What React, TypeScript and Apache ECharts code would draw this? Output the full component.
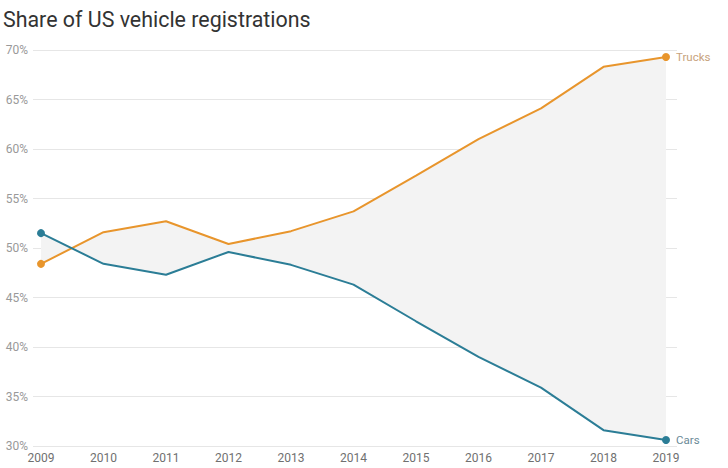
import React, { useEffect, useRef } from "react";
import * as echarts from "echarts";

const years = [2009, 2010, 2011, 2012, 2013, 2014, 2015, 2016, 2017, 2018, 2019];
const trucks = [48.4, 51.6, 52.7, 50.4, 51.7, 53.7, 57.3, 61.0, 64.1, 68.3, 69.3];
const cars = [51.5, 48.4, 47.3, 49.6, 48.3, 46.3, 42.6, 39.0, 35.9, 31.6, 30.6];
const yTicks = [30, 35, 40, 45, 50, 55, 60, 65, 70];

const TRUCK_COLOR = "#e8952c";
const CAR_COLOR = "#2b7d96";
const FONT = "Roboto";

export default function App() {
  const ref = useRef<HTMLDivElement>(null);
  useEffect(() => {
    document.body.style.margin = "0";
    if (!ref.current) return;
    const chart = echarts.init(ref.current, undefined, { renderer: "svg" });
    const last = years.length - 1;
    const mk = (vals: number[], name: string, color: string, labelColor: string) =>
      vals.map((v, i) => {
        const item: any = { value: [years[i], v] };
        if (i === last) {
          item.label = {
            show: true,
            position: "right",
            formatter: name,
            color: labelColor,
            fontSize: 11.5,
            fontFamily: FONT,
            distance: 6,
          };
        }
        return item;
      });
    chart.setOption({
      animation: false,
      backgroundColor: "#ffffff",
      textStyle: { fontFamily: FONT },
      title: {
        text: "Share of US vehicle registrations",
        left: -2,
        top: 4,
        textStyle: { fontFamily: FONT, fontSize: 21.4, fontWeight: "normal", color: "#333333" },
      },
      grid: { left: 33, right: 51, top: 50, bottom: 22 },
      xAxis: {
        type: "value",
        min: 2008.872,
        max: 2019.176,
        axisLine: { show: false },
        axisTick: { show: false },
        splitLine: { show: false },
        axisLabel: {
          customValues: years,
          formatter: (v: number) => String(Math.round(v)),
          color: "#707070",
          fontSize: 12,
          fontFamily: FONT,
          margin: 6,
        },
      },
      yAxis: {
        type: "value",
        min: 30,
        max: 70,
        interval: 5,
        axisLine: { show: false },
        axisTick: { show: false },
        splitLine: { lineStyle: { color: "#e6e6e6", width: 1 } },
        axisLabel: {
          formatter: (v: number) => (yTicks.includes(v) ? v + "%" : ""),
          color: "#999999",
          fontSize: 12,
          fontFamily: FONT,
          margin: 5,
        },
      },
      series: [
        {
          type: "custom",
          silent: true,
          z: 1,
          data: [[2009, 50]],
          renderItem: (params: any, api: any) => {
            if (params.dataIndex !== 0) return null;
            const pts: number[][] = [];
            years.forEach((y, i) => pts.push(api.coord([y, trucks[i]])));
            for (let i = years.length - 1; i >= 0; i--) pts.push(api.coord([years[i], cars[i]]));
            return { type: "polygon", shape: { points: pts }, style: { fill: "#f3f3f3" } };
          },
        },
        {
          type: "line",
          name: "Trucks",
          z: 3,
          data: mk(trucks, "Trucks", TRUCK_COLOR, "#c7a27c"),
          lineStyle: { color: TRUCK_COLOR, width: 2 },
          itemStyle: { color: TRUCK_COLOR },
          symbol: "circle",
          showAllSymbol: true,
          symbolSize: (_v: any, p: any) => (p.dataIndex === 0 || p.dataIndex === last ? 8 : 0),
        },
        {
          type: "line",
          name: "Cars",
          z: 3,
          data: mk(cars, "Cars", CAR_COLOR, "#6b8a97"),
          lineStyle: { color: CAR_COLOR, width: 2 },
          itemStyle: { color: CAR_COLOR },
          symbol: "circle",
          showAllSymbol: true,
          symbolSize: (_v: any, p: any) => (p.dataIndex === 0 || p.dataIndex === last ? 8 : 0),
        },
      ],
    });
    return () => chart.dispose();
  }, []);
  return <div ref={ref} style={{ width: 728, height: 468 }} />;
}
